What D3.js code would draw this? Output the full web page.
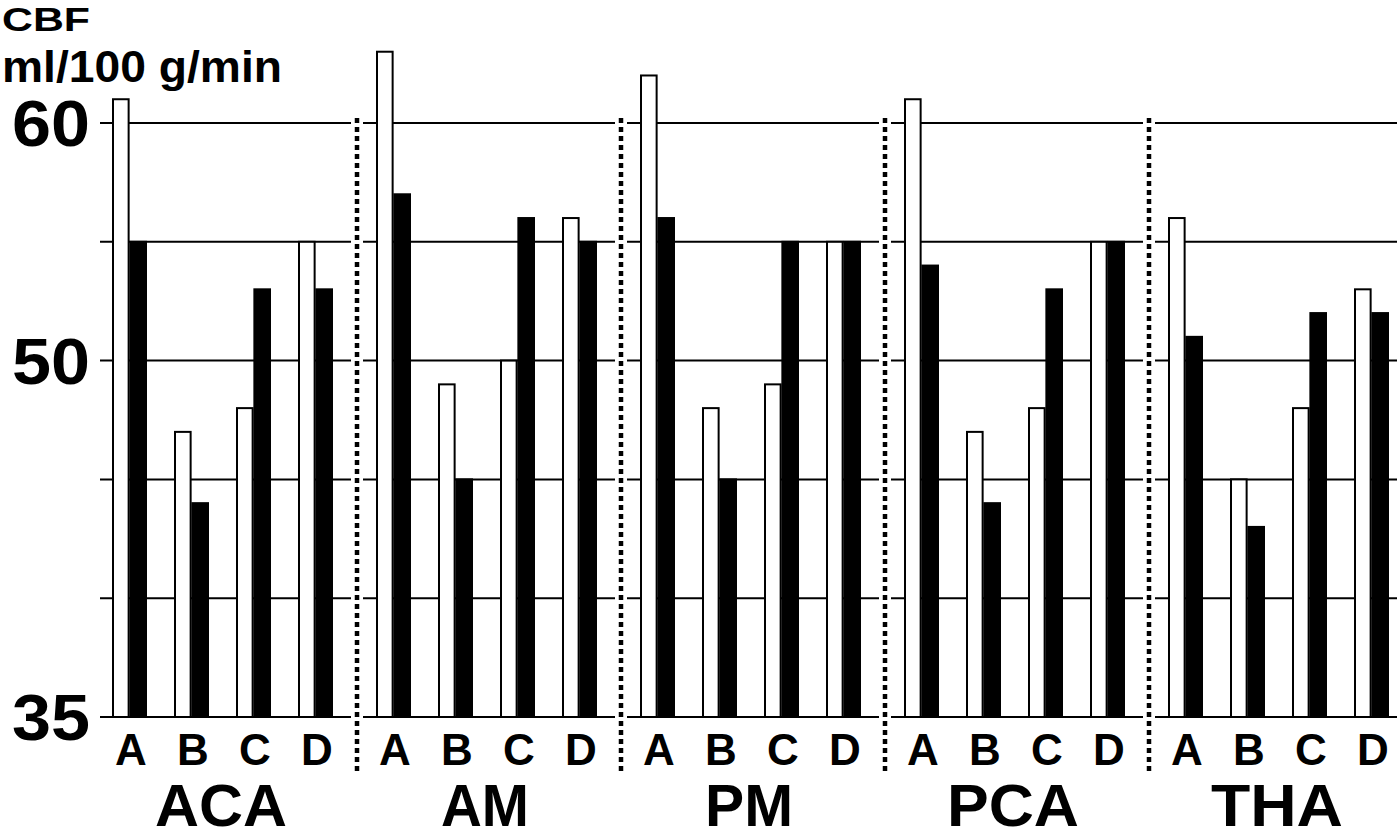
<!DOCTYPE html>
<html>
<head>
<meta charset="utf-8">
<script src="https://cdn.jsdelivr.net/npm/d3@7"></script>
<style>
    body { margin: 0; background: #fff; }
    svg text { font-family: "Liberation Sans", Arial, sans-serif; font-weight: bold; fill: #000; }
</style>
</head>
<body>
<div id="cbf-chart"></div>
<script>
// regions, conditions and the two measurements per condition
var regions = ["ACA", "AM", "PM", "PCA", "THA"];
var groups = ["A", "B", "C", "D"];
var series = ["open", "filled"];

var openValues = [
    [61, 47, 48, 55],
    [63, 49, 50, 56],
    [62, 48, 49, 55],
    [61, 47, 48, 55],
    [56, 45, 48, 53]
];
var filledValues = [
    [55, 44, 53, 53],
    [57, 45, 56, 55],
    [56, 45, 55, 55],
    [54, 44, 53, 55],
    [51, 43, 52, 52]
];

var yTickLabels = [60, 50, 35];
var gridValues = [35, 40, 45, 50, 55, 60];

/**
 * Constructor for the CBF bar chart
 */
function CbfChart(){
    var self = this;
    self.init();
};

/**
 * Creates the svg and the scales
 */
CbfChart.prototype.init = function(){
    var self = this;
    self.svgWidth = 1397;
    self.svgHeight = 840;

    self.svg = d3.select("#cbf-chart").append("svg")
        .attr("width", self.svgWidth)
        .attr("height", self.svgHeight);

    self.y = d3.scaleLinear()
        .domain([35, 60])
        .range([717, 123]);

    self.xPanel = d3.scaleBand()
        .domain(regions)
        .range([113, 113 + 264 * regions.length]);

    self.xGroup = d3.scaleBand()
        .domain(groups)
        .range([0, 62 * groups.length]);

    self.xSeries = d3.scaleBand()
        .domain(series)
        .range([0, 33])
        .paddingInner(0.1);
};

CbfChart.prototype.update = function(){
    var self = this;

    // dotted separators sit just left of every panel but the first
    var separators = regions.slice(1).map(function(r) {
        return self.xPanel(r) - 20;
    });

    // gridlines, broken around the separators
    var spans = regions.map(function(r, i) {
        return {
            x1: i == 0 ? 100 : separators[i - 1] + 6,
            x2: i == regions.length - 1 ? self.svgWidth : separators[i] - 6
        };
    });

    var grid = self.svg.append("g");
    spans.forEach(function(s) {
        grid.selectAll(null)
            .data(gridValues)
            .enter()
            .append("line")
            .attr("x1", s.x1)
            .attr("x2", s.x2)
            .attr("y1", function(d) { return self.y(d); })
            .attr("y2", function(d) { return self.y(d); })
            .attr("stroke", "#000")
            .attr("stroke-width", 2);
    });

    self.svg.append("g")
        .selectAll("line")
        .data(separators)
        .enter()
        .append("line")
        .attr("x1", function(d) { return d; })
        .attr("x2", function(d) { return d; })
        .attr("y1", 118)
        .attr("y2", 773)
        .attr("stroke", "#000")
        .attr("stroke-width", 4.5)
        .attr("stroke-dasharray", "5,4");

    // bars
    var rows = [];
    regions.forEach(function(r, i) {
        groups.forEach(function(g, j) {
            rows.push({region: r, group: g, series: "open", value: openValues[i][j]});
            rows.push({region: r, group: g, series: "filled", value: filledValues[i][j]});
        });
    });

    self.svg.append("g")
        .selectAll("rect")
        .data(rows)
        .enter()
        .append("rect")
        .attr("x", function(d) {
            return self.xPanel(d.region) + self.xGroup(d.group) + self.xSeries(d.series);
        })
        .attr("y", function(d) { return self.y(d.value); })
        .attr("width", self.xSeries.bandwidth())
        .attr("height", function(d) { return self.y(35) - self.y(d.value); })
        .attr("fill", function(d) { return d.series == "open" ? "#fff" : "#000"; })
        .attr("stroke", "#000")
        .attr("stroke-width", 2);

    // y labels
    self.svg.append("g")
        .selectAll("text")
        .data(yTickLabels)
        .enter()
        .append("text")
        .attr("x", 90)
        .attr("y", function(d) { return self.y(d) + 23; })
        .attr("text-anchor", "end")
        .attr("font-size", 64)
        .attr("textLength", 78)
        .attr("lengthAdjust", "spacingAndGlyphs")
        .text(function(d) { return d; });

    self.svg.append("text")
        .attr("x", 2)
        .attr("y", 31)
        .attr("font-size", 34)
        .attr("textLength", 88)
        .attr("lengthAdjust", "spacingAndGlyphs")
        .text("CBF");

    self.svg.append("text")
        .attr("x", 2)
        .attr("y", 82)
        .attr("font-size", 45)
        .attr("textLength", 280)
        .attr("lengthAdjust", "spacingAndGlyphs")
        .text("ml/100 g/min");

    // condition letters under each pair of bars
    var letters = [];
    regions.forEach(function(r) {
        groups.forEach(function(g) {
            letters.push({region: r, group: g});
        });
    });

    self.svg.append("g")
        .selectAll("text")
        .data(letters)
        .enter()
        .append("text")
        .attr("x", function(d) { return self.xPanel(d.region) + self.xGroup(d.group) + 18; })
        .attr("y", 765)
        .attr("text-anchor", "middle")
        .attr("font-size", 44)
        .text(function(d) { return d.group; });

    // region names
    self.svg.append("g")
        .selectAll("text")
        .data(regions)
        .enter()
        .append("text")
        .attr("x", function(d) { return self.xPanel(d) + 108; })
        .attr("y", 826)
        .attr("text-anchor", "middle")
        .attr("font-size", 59)
        .attr("textLength", function(d) { return d.length * 44; })
        .attr("lengthAdjust", "spacingAndGlyphs")
        .text(function(d) { return d; });
};

var chart = new CbfChart();
chart.update();
</script>
</body>
</html>
